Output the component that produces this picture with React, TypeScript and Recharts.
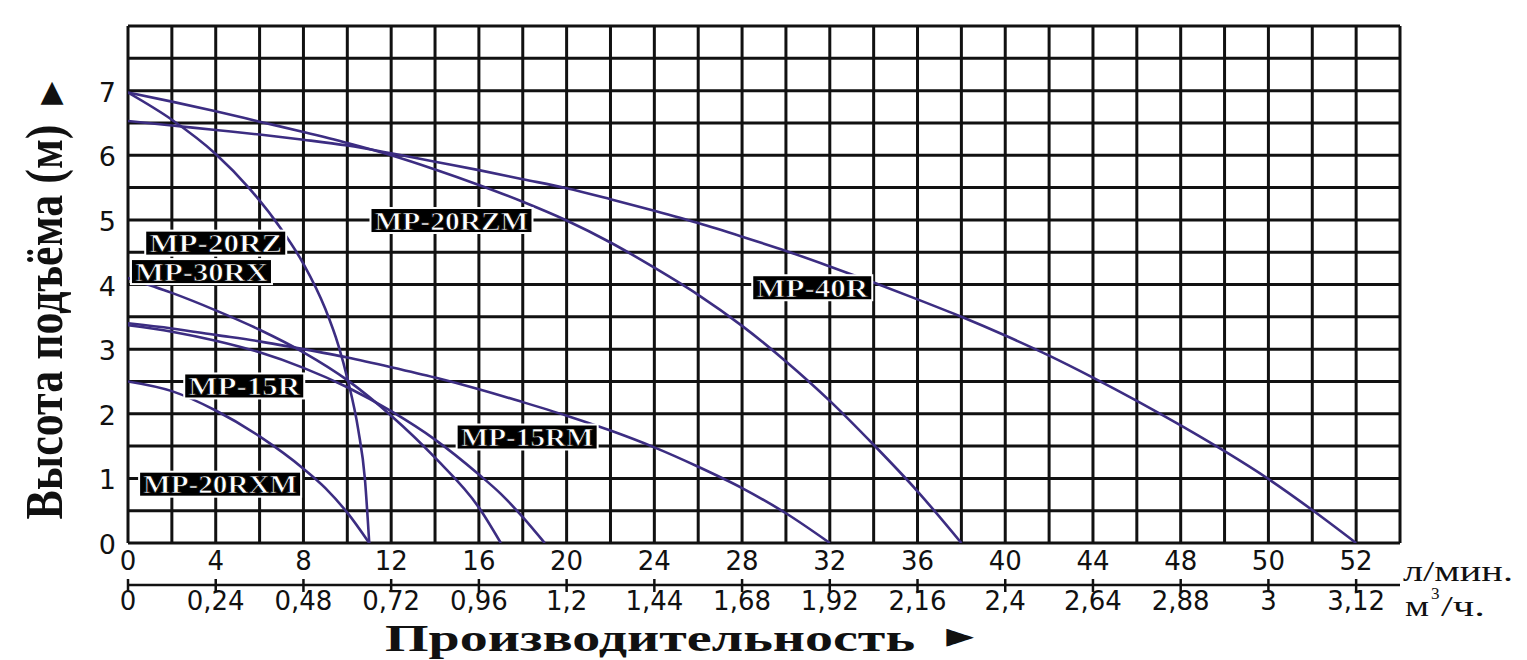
import React from 'react';
import { LineChart, Line, XAxis, YAxis, CartesianGrid, ReferenceDot, Label } from 'recharts';

// grid positions (л/мин.) and labelled ticks
const gridFlow = [0, 2, 4, 6, 8, 10, 12, 14, 16, 18, 20, 22, 24, 26, 28, 30, 32, 34, 36, 38, 40, 42, 44, 46, 48, 50, 52, 54, 56, 58];
const flowTicks = [0, 4, 8, 12, 16, 20, 24, 28, 32, 36, 40, 44, 48, 52, 56];
const flowLabels = ['0', '4', '8', '12', '16', '20', '24', '28', '32', '36', '40', '44', '48', '50', '52'];
const m3Labels = ['0', '0,24', '0,48', '0,72', '0,96', '1,2', '1,44', '1,68', '1,92', '2,16', '2,4', '2,64', '2,88', '3', '3,12'];
const headTicks = [0, 0.5, 1, 1.5, 2, 2.5, 3, 3.5, 4, 4.5, 5, 5.5, 6, 6.5, 7, 7.5, 8];
const headLabels = ['0', '1', '2', '3', '4', '5', '6', '7'];

// pump curves: q = flow position, h = head (m)
const mp20rz = [
  { q: 0, h: 6.97 }, { q: 2, h: 6.55 }, { q: 4, h: 6.02 }, { q: 5.5, h: 5.5 }, { q: 7, h: 4.85 },
  { q: 8, h: 4.32 }, { q: 9, h: 3.62 }, { q: 9.6, h: 3.05 }, { q: 10, h: 2.55 }, { q: 10.5, h: 1.75 },
  { q: 10.8, h: 1.0 }, { q: 11, h: 0 },
];
const mp20rzm = [
  { q: 0, h: 6.97 }, { q: 2, h: 6.83 }, { q: 4, h: 6.68 }, { q: 6, h: 6.52 }, { q: 8, h: 6.36 },
  { q: 10, h: 6.19 }, { q: 12, h: 6.0 }, { q: 14, h: 5.78 }, { q: 16, h: 5.54 }, { q: 18, h: 5.28 },
  { q: 20, h: 4.99 }, { q: 22, h: 4.65 }, { q: 24, h: 4.26 }, { q: 26, h: 3.84 }, { q: 28, h: 3.36 },
  { q: 30, h: 2.81 }, { q: 32, h: 2.2 }, { q: 34, h: 1.52 }, { q: 36, h: 0.8 }, { q: 38, h: 0 },
];
const mp40r = [
  { q: 0, h: 6.53 }, { q: 2, h: 6.46 }, { q: 4, h: 6.39 }, { q: 6, h: 6.32 }, { q: 8, h: 6.24 },
  { q: 10, h: 6.15 }, { q: 12, h: 6.03 }, { q: 14, h: 5.9 }, { q: 16, h: 5.77 }, { q: 18, h: 5.63 },
  { q: 20, h: 5.49 }, { q: 22, h: 5.32 }, { q: 24, h: 5.14 }, { q: 26, h: 4.95 }, { q: 28, h: 4.74 },
  { q: 30, h: 4.52 }, { q: 32, h: 4.28 }, { q: 34, h: 4.03 }, { q: 36, h: 3.77 }, { q: 38, h: 3.5 },
  { q: 40, h: 3.21 }, { q: 42, h: 2.9 }, { q: 44, h: 2.56 }, { q: 46, h: 2.2 }, { q: 48, h: 1.82 },
  { q: 50, h: 1.42 }, { q: 52, h: 0.99 }, { q: 54, h: 0.51 }, { q: 56, h: 0 },
];
const mp30rx = [
  { q: 0, h: 4.1 }, { q: 2, h: 3.87 }, { q: 4, h: 3.6 }, { q: 6, h: 3.3 }, { q: 8, h: 2.95 },
  { q: 10, h: 2.52 }, { q: 12, h: 1.97 }, { q: 14, h: 1.32 }, { q: 16, h: 0.55 }, { q: 17, h: 0 },
];
const mp15r = [
  { q: 0, h: 3.37 }, { q: 2, h: 3.27 }, { q: 4, h: 3.13 }, { q: 6, h: 2.95 }, { q: 8, h: 2.71 },
  { q: 10, h: 2.41 }, { q: 12, h: 2.04 }, { q: 14, h: 1.6 }, { q: 16, h: 1.06 }, { q: 17, h: 0.76 },
  { q: 18, h: 0.4 }, { q: 19, h: 0 },
];
const mp15rm = [
  { q: 0, h: 3.4 }, { q: 2, h: 3.32 }, { q: 4, h: 3.22 }, { q: 6, h: 3.12 }, { q: 8, h: 3.0 },
  { q: 10, h: 2.87 }, { q: 12, h: 2.72 }, { q: 14, h: 2.56 }, { q: 16, h: 2.38 }, { q: 18, h: 2.18 },
  { q: 20, h: 1.97 }, { q: 22, h: 1.74 }, { q: 24, h: 1.48 }, { q: 26, h: 1.18 }, { q: 28, h: 0.85 },
  { q: 30, h: 0.46 }, { q: 32, h: 0 },
];
const mp20rxm = [
  { q: 0, h: 2.5 }, { q: 2, h: 2.35 }, { q: 4, h: 2.05 }, { q: 6, h: 1.65 }, { q: 8, h: 1.15 },
  { q: 9, h: 0.85 }, { q: 10, h: 0.47 }, { q: 11, h: 0 },
];

const seriesList = [mp20rz, mp20rzm, mp40r, mp30rx, mp15r, mp15rm, mp20rxm];

// curve name tags (anchor in data units)
const tagNames = ['MP-20RZ', 'MP-30RX', 'MP-20RZM', 'MP-40R', 'MP-15R', 'MP-15RM', 'MP-20RXM'];
const tagFlow = [4.0, 3.35, 14.75, 31.2, 5.3, 18.2, 4.2];
const tagHead = [4.64, 4.2, 4.99, 3.95, 2.43, 1.64, 0.91];

const CURVE = '#3c2d82';
const INK = '#111';
const SANS = "'DejaVu Sans', sans-serif";
const SERIF = "'Liberation Serif', 'DejaVu Serif', serif";

const Tag = (props: any) => {
  const { cx, cy, name } = props;
  const w = name.length * 21 - 8;
  const h = 23;
  return (
    <g>
      <rect x={cx - w / 2 - 2} y={cy - h / 2 - 2} width={w + 4} height={h + 4} fill="#fff" />
      <rect x={cx - w / 2} y={cy - h / 2} width={w} height={h} fill="#000" />
      <text
        x={cx - w / 2 + 3}
        y={cy + 9}
        fontFamily={SERIF}
        fontWeight="bold"
        fontSize={25}
        fill="#fff"
        stroke="#000"
        strokeWidth={0.7}
        textLength={w - 6}
        lengthAdjust="spacingAndGlyphs"
      >
        {name}
      </text>
    </g>
  );
};

const FlowTick = (props: any) => {
  const { x, y, payload } = props;
  const i = flowTicks.indexOf(payload.value);
  if (i < 0) return <g />;
  return (
    <text x={x} y={y + 27} textAnchor="middle" fontFamily={SANS} fontSize={26} fill={INK}>
      {flowLabels[i]}
    </text>
  );
};

const M3Tick = (props: any) => {
  const { x, y, payload } = props;
  const i = flowTicks.indexOf(payload.value);
  if (i < 0) return <g />;
  return (
    <g>
      <line x1={x} x2={x} y1={y - 6} y2={y + 7} stroke={INK} strokeWidth={2.5} />
      <text x={x} y={y + 25} textAnchor="middle" fontFamily={SANS} fontSize={26} fill={INK}>
        {m3Labels[i]}
      </text>
    </g>
  );
};

const HeadTick = (props: any) => {
  const { x, y, payload } = props;
  const v = payload.value;
  if (!Number.isInteger(v) || v >= headLabels.length) return <g />;
  return (
    <text x={x - 12} y={y + 11} textAnchor="end" fontFamily={SANS} fontSize={27} fill={INK}>
      {headLabels[v]}
    </text>
  );
};

const YTitle = (props: any) => {
  const vb = props.viewBox || { x: 68, y: 26, width: 60, height: 517 };
  const cx = vb.x - 22;
  const cy = vb.y + 296;
  return (
    <g>
      <text
        transform={`translate(${cx}, ${cy}) rotate(-90) scale(1, 1.25)`}
        x={0}
        y={13}
        textAnchor="middle"
        fontFamily={SERIF}
        fontWeight="bold"
        fontSize={42}
        fill={INK}
        textLength={395}
        lengthAdjust="spacingAndGlyphs"
      >
        Высота подъёма (м)
      </text>
      <text x={cx + 6} y={vb.y + 75} textAnchor="middle" fontFamily={SANS} fontSize={30} fill={INK}>
        ▲
      </text>
    </g>
  );
};

const XTitle = (props: any) => {
  const vb = props.viewBox || { x: 128, y: 585, width: 1272, height: 75 };
  const ux = vb.x + vb.width + 5;
  return (
    <g>
      <text
        x={385}
        y={vb.y + 66}
        fontFamily={SERIF}
        fontWeight="bold"
        fontSize={38}
        fill={INK}
        textLength={530}
        lengthAdjust="spacingAndGlyphs"
      >
        Производительность
      </text>
      <text x={960} y={vb.y + 62} textAnchor="middle" fontFamily={SANS} fontSize={36} fill={INK}>
        ►
      </text>
      <text x={ux} y={vb.y + 31} fontFamily={SERIF} fontSize={30} fill={INK} textLength={24} lengthAdjust="spacingAndGlyphs">
        м
      </text>
      <text x={ux + 26} y={vb.y + 14} fontFamily={SERIF} fontSize={17} fill={INK}>
        3
      </text>
      <text x={ux + 36} y={vb.y + 31} fontFamily={SERIF} fontSize={30} fill={INK} textLength={44} lengthAdjust="spacingAndGlyphs">
        /ч.
      </text>
    </g>
  );
};

const FlowUnit = (props: any) => {
  const vb = props.viewBox || { x: 128, y: 543, width: 1272, height: 42 };
  return (
    <text x={vb.x + vb.width + 3} y={vb.y + 38} fontFamily={SERIF} fontSize={30} fill={INK} textLength={110} lengthAdjust="spacingAndGlyphs">
      л/мин.
    </text>
  );
};

export default function App() {
  return (
    <div style={{ position: 'fixed', left: 0, top: 0, width: 1527, height: 660, background: '#fff' }}>
      <LineChart width={1527} height={660} margin={{ top: 26, right: 127, left: 68, bottom: 0 }}>
        <CartesianGrid stroke={INK} strokeWidth={3} />
        <XAxis
          xAxisId={0}
          dataKey="q"
          type="number"
          domain={[0, 58]}
          ticks={gridFlow}
          interval={0}
          allowDataOverflow
          axisLine={false}
          tickLine={false}
          tickSize={0}
          tickMargin={0}
          height={42}
          tick={<FlowTick />}
        >
          <Label content={<FlowUnit />} />
        </XAxis>
        <XAxis
          xAxisId="m3"
          dataKey="q"
          type="number"
          domain={[0, 58]}
          ticks={flowTicks}
          interval={0}
          allowDataOverflow
          axisLine={{ stroke: INK, strokeWidth: 2.5 }}
          tickLine={false}
          tickSize={0}
          tickMargin={0}
          height={75}
          tick={<M3Tick />}
        >
          <Label content={<XTitle />} />
        </XAxis>
        <YAxis
          type="number"
          domain={[0, 8]}
          ticks={headTicks}
          interval={0}
          allowDataOverflow
          axisLine={false}
          tickLine={false}
          tickSize={0}
          tickMargin={0}
          width={60}
          tick={<HeadTick />}
        >
          <Label content={<YTitle />} />
        </YAxis>
        {seriesList.map((s, i) => (
          <Line
            key={i}
            data={s}
            dataKey="h"
            type="monotone"
            stroke={CURVE}
            strokeWidth={2.6}
            dot={false}
            activeDot={false}
            isAnimationActive={false}
          />
        ))}
        {tagNames.map((n, i) => (
          <ReferenceDot
            key={n}
            x={tagFlow[i]}
            y={tagHead[i]}
            r={0}
            shape={(p: any) => <Tag {...p} name={n} />}
          />
        ))}
      </LineChart>
    </div>
  );
}
